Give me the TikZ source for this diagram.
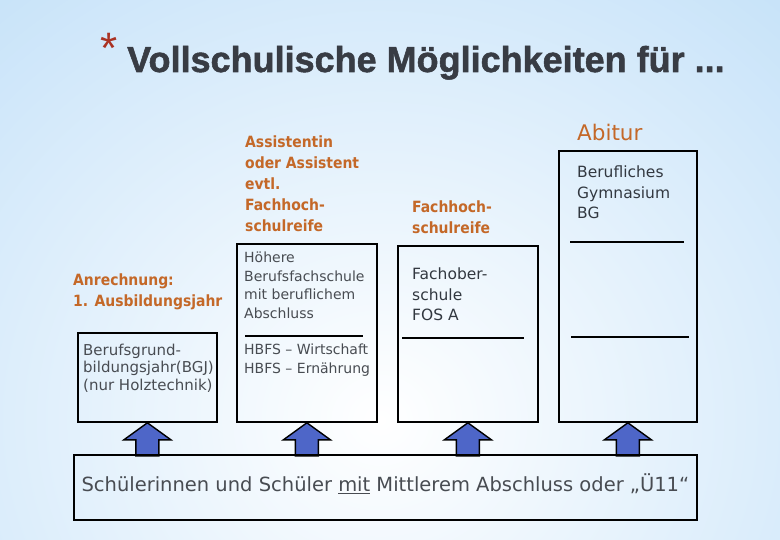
\documentclass[tikz,border=0pt]{standalone}
\usepackage{fontspec}
\setmainfont{DejaVu Sans}
\newfontfamily\condfont{DejaVu Sans Condensed}
\newfontfamily\titlefont{Liberation Sans}[BoldFeatures={FakeBold=1.5}]
\usepackage{tikz}
\usetikzlibrary{positioning,calc}

\definecolor{bgblue}{RGB}{156,205,244}
\definecolor{labelorange}{RGB}{196,104,40}
\definecolor{textgray}{RGB}{72,76,82}
\definecolor{darkgray}{RGB}{50,56,64}
\definecolor{titlegray}{RGB}{56,60,68}
\definecolor{arrowblue}{RGB}{78,102,200}
\definecolor{starred}{RGB}{170,50,35}

\tikzset{
  schoolbox/.style={draw, line width=1.8pt, inner sep=0pt, anchor=north west},
  label/.style={text=labelorange, font=\condfont\bfseries\fontsize{15.5}{21}\selectfont,
    align=left, inner sep=0pt, anchor=north west},
  boxtext/.style={text=textgray, font=\fontsize{14}{18.5}\selectfont,
    align=left, inner sep=0pt, anchor=north west},
  bigtext/.style={text=darkgray, font=\fontsize{15.5}{20.5}\selectfont,
    align=left, inner sep=0pt, anchor=north west},
  sepline/.style={line width=1.8pt},
  blockarrow/.style={fill=arrowblue, draw=black, line width=1.4pt, line join=miter}
}

\begin{document}
\begin{tikzpicture}[x=1pt,y=-1pt]
	\useasboundingbox (0,0) rectangle (780,540);
	% background
	\begin{scope}
	\clip (0,0) rectangle (780,540);
	\shade[inner color=white, outer color=bgblue] (-700,-580) rectangle (1460,1420);
	\end{scope}

	% title
	\node[anchor=north, text=starred, font=\titlefont\fontsize{44}{44}\selectfont, inner sep=0pt] (star) at (109,33) {*};
	\node[anchor=base west, text=titlegray, font=\titlefont\bfseries\fontsize{36}{40}\selectfont, inner sep=0pt] (title) at (127,72) {Vollschulische Möglichkeiten für ...};

	% columns
	\node[schoolbox, minimum width=139pt, minimum height=89pt] (bgj) at (77,332) {};
	\node[schoolbox, minimum width=140pt, minimum height=178pt] (hbfs) at (236,243) {};
	\node[schoolbox, minimum width=140pt, minimum height=176pt] (fos) at (397,245) {};
	\node[schoolbox, minimum width=138pt, minimum height=271pt] (bg) at (558,150) {};

	\draw[sepline] (245,336) -- (363,336);
	\draw[sepline] (402,338) -- (524,338);
	\draw[sepline] (570,242) -- (684,242);
	\draw[sepline] (571,337) -- (689,337);

	% labels above
	\node[label] (anrechnung) at (73,274) {Anrechnung:\\1. Ausbildungsjahr};
	\node[label] (assistent) at (245,136) {Assistentin\\oder Assistent\\evtl.\\Fachhoch-\\schulreife};
	\node[label] (fhr) at (412,201) {Fachhoch-\\schulreife};
	\node[anchor=base west, text=labelorange, font=\fontsize{21.5}{24}\selectfont, inner sep=0pt] (abitur) at (577,141) {Abitur};

	% texts in the boxes
	\node[boxtext, font=\fontsize{15}{17.5}\selectfont] (bgjtext) at (83,343.5) {Berufsgrund-\\bildungsjahr(BGJ)\\(nur Holztechnik)};
	\node[boxtext] (hbfstext) at (244,252) {Höhere\\Berufsfachschule\\mit beruflichem\\Abschluss};
	\node[boxtext] (hbfslist) at (244,344) {HBFS – Wirtschaft\\HBFS – Ernährung};
	\node[bigtext] (fostext) at (412,268) {Fachober-\\schule\\FOS A};
	\node[bigtext] (bgtext) at (577,166) {Berufliches\\Gymnasium\\BG};

	% arrows
	\foreach \b in {bgj,hbfs,fos,bg}{
		\draw[blockarrow] (\b.south) -- ++(23.5,17) -- ++(-12,0) -- ++(0,16) -- ++(-23,0) -- ++(0,-16) -- ++(-12,0) -- cycle;
	}

	% basis
	\node[schoolbox, minimum width=623pt, minimum height=65pt, text=textgray,
	  font=\fontsize{19.5}{24}\selectfont, text height=15pt, text depth=6pt] (basis) at (73,454)
	  {Schülerinnen und Schüler \underline{mit} Mittlerem Abschluss oder „Ü11“};
\end{tikzpicture}
\end{document}
